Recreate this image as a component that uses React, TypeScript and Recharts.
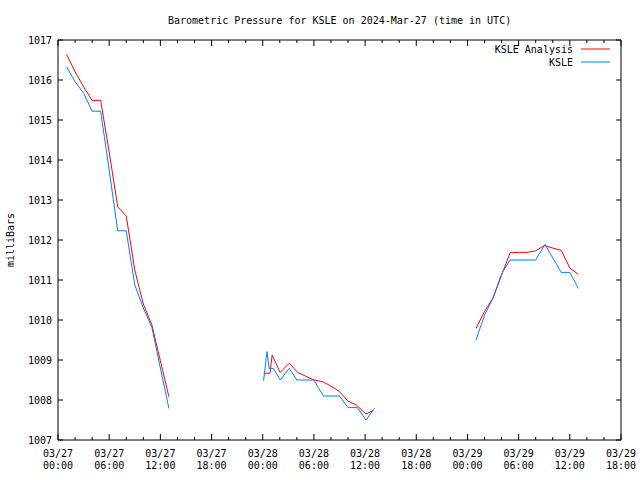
import React from "react";
import { LineChart, Line, XAxis, YAxis } from "recharts";

// Hours since 03/27 00:00 UTC (null value = gap in the record)
const analysisHours = [1, 2, 3, 4, 5, 6, 7, 8, 9, 10, 11, 12, 13, 18, 24.1, 24.85, 25.1, 26.05, 27.1, 28.1, 29, 30, 31, 32, 33, 34, 35, 36.1, 36.9, 43, 49, 50, 51, 52, 53, 54, 55, 56, 57, 58, 59, 60, 61];
const analysisMb = [1016.64, 1016.21, 1015.83, 1015.49, 1015.49, 1014.2, 1012.83, 1012.6, 1011.25, 1010.4, 1009.88, 1008.98, 1008.08, null, 1008.67, 1008.67, 1009.12, 1008.69, 1008.92, 1008.69, 1008.6, 1008.5, 1008.46, 1008.35, 1008.21, 1007.97, 1007.87, 1007.65, 1007.73, null, 1009.79, 1010.21, 1010.55, 1011.12, 1011.68, 1011.69, 1011.69, 1011.73, 1011.86, 1011.8, 1011.74, 1011.3, 1011.14];

const obsHours = [1, 2, 3, 4, 5, 6, 7, 8, 9, 10, 11, 12, 13, 18, 24.1, 24.5, 24.75, 25.25, 26.05, 27.1, 28, 29, 30, 31.1, 32, 33, 34, 35.1, 36.1, 37.1, 43, 49, 50, 51, 52, 53, 54, 55, 56, 57.1, 58, 59, 60, 61];
const obsMb = [1016.33, 1015.96, 1015.67, 1015.22, 1015.22, 1013.75, 1012.23, 1012.23, 1010.88, 1010.3, 1009.82, 1008.8, 1007.79, null, 1008.48, 1009.21, 1008.79, 1008.79, 1008.5, 1008.79, 1008.5, 1008.5, 1008.5, 1008.1, 1008.1, 1008.1, 1007.81, 1007.81, 1007.5, 1007.79, null, 1009.5, 1010.12, 1010.55, 1011.15, 1011.5, 1011.5, 1011.5, 1011.5, 1011.89, 1011.55, 1011.19, 1011.19, 1010.79];

const xTicks = [0, 2, 4, 6, 8, 10, 12, 14, 16, 18, 20, 22, 24, 26, 28, 30, 32, 34, 36, 38, 40, 42, 44, 46, 48, 50, 52, 54, 56, 58, 60, 62, 64, 66];
const majorTicks = [0, 6, 12, 18, 24, 30, 36, 42, 48, 54, 60, 66];
const dateLabels = ["03/27", "03/27", "03/27", "03/27", "03/28", "03/28", "03/28", "03/28", "03/29", "03/29", "03/29", "03/29"];
const timeLabels = ["00:00", "06:00", "12:00", "18:00", "00:00", "06:00", "12:00", "18:00", "00:00", "06:00", "12:00", "18:00"];
const yTicks = [1007, 1008, 1009, 1010, 1011, 1012, 1013, 1014, 1015, 1016, 1017];

const seriesNames = ["KSLE Analysis", "KSLE"];
const seriesColors = ["#ff0000", "#0080ff"];

const FONT = "'DejaVu Sans Mono', monospace";

const analysisData = analysisHours.map((h, i) => ({ hour: h, mb: analysisMb[i] }));
const obsData = obsHours.map((h, i) => ({ hour: h, mb: obsMb[i] }));

const BottomTick = (props: any) => {
  const { x, y, payload } = props;
  const idx = majorTicks.indexOf(payload.value);
  const major = idx >= 0;
  return (
    <g>
      <line x1={x} x2={x} y1={y} y2={y - (major ? 6 : 3)} stroke="#000" />
      {major && (
        <text x={x} y={y + 17} textAnchor="middle" fontFamily={FONT} fontSize={10} fill="#000">
          {dateLabels[idx]}
        </text>
      )}
      {major && (
        <text x={x} y={y + 29} textAnchor="middle" fontFamily={FONT} fontSize={10} fill="#000">
          {timeLabels[idx]}
        </text>
      )}
    </g>
  );
};

const TopTick = (props: any) => {
  const { x, y, payload } = props;
  const major = majorTicks.indexOf(payload.value) >= 0;
  return <line x1={x} x2={x} y1={y} y2={y + (major ? 6 : 3)} stroke="#000" />;
};

const LeftTick = (props: any) => {
  const { x, y, payload } = props;
  return (
    <g>
      <line x1={x} x2={x + 5} y1={y} y2={y} stroke="#000" />
      <text x={x - 6} y={y + 4} textAnchor="end" fontFamily={FONT} fontSize={10} fill="#000">
        {payload.value}
      </text>
    </g>
  );
};

const RightTick = (props: any) => {
  const { x, y } = props;
  return <line x1={x} x2={x - 5} y1={y} y2={y} stroke="#000" />;
};

export default function App() {
  return (
    <div style={{ position: "absolute", left: 0, top: 0, width: 640, height: 480, background: "#fff" }}>
      <LineChart width={640} height={480} margin={{ top: 39, right: 18, bottom: 0, left: 0 }}>
        <text x={168} y={24} fontFamily={FONT} fontSize={10} fill="#000">
          Barometric Pressure for KSLE on 2024-Mar-27 (time in UTC)
        </text>
        <text
          x={14}
          y={240}
          transform="rotate(-90 14 240)"
          textAnchor="middle"
          fontFamily={FONT}
          fontSize={10}
          fill="#000"
        >
          milliBars
        </text>
        {seriesNames.map((name, i) => (
          <g key={name}>
            <text x={573} y={53 + i * 13} textAnchor="end" fontFamily={FONT} fontSize={10} fill="#000">
              {name}
            </text>
            <line x1={581} x2={610} y1={49 + i * 13} y2={49 + i * 13} stroke={seriesColors[i]} strokeWidth={1} />
          </g>
        ))}
        <XAxis
          dataKey="hour"
          type="number"
          domain={[0, 66]}
          ticks={xTicks}
          interval={0}
          height={40}
          tickSize={0}
          tickMargin={0}
          tickLine={false}
          axisLine={{ stroke: "#000" }}
          tick={BottomTick}
        />
        <XAxis
          xAxisId="top"
          orientation="top"
          dataKey="hour"
          type="number"
          domain={[0, 66]}
          ticks={xTicks}
          interval={0}
          height={1}
          tickSize={0}
          tickMargin={0}
          tickLine={false}
          axisLine={{ stroke: "#000" }}
          tick={TopTick}
        />
        <YAxis
          type="number"
          domain={[1007, 1017]}
          ticks={yTicks}
          interval={0}
          width={58}
          tickSize={0}
          tickMargin={0}
          tickLine={false}
          axisLine={{ stroke: "#000" }}
          tick={LeftTick}
        />
        <YAxis
          yAxisId="right"
          orientation="right"
          type="number"
          domain={[1007, 1017]}
          ticks={yTicks}
          interval={0}
          width={1}
          tickSize={0}
          tickMargin={0}
          tickLine={false}
          axisLine={{ stroke: "#000" }}
          tick={RightTick}
        />
        <Line
          xAxisId="top"
          yAxisId="right"
          data={analysisData}
          dataKey="mb"
          name={seriesNames[0]}
          stroke={seriesColors[0]}
          strokeWidth={1}
          dot={false}
          type="linear"
          connectNulls={false}
          isAnimationActive={false}
        />
        <Line
          data={obsData}
          dataKey="mb"
          name={seriesNames[1]}
          stroke={seriesColors[1]}
          strokeWidth={1}
          dot={false}
          type="linear"
          connectNulls={false}
          isAnimationActive={false}
        />
      </LineChart>
    </div>
  );
}
